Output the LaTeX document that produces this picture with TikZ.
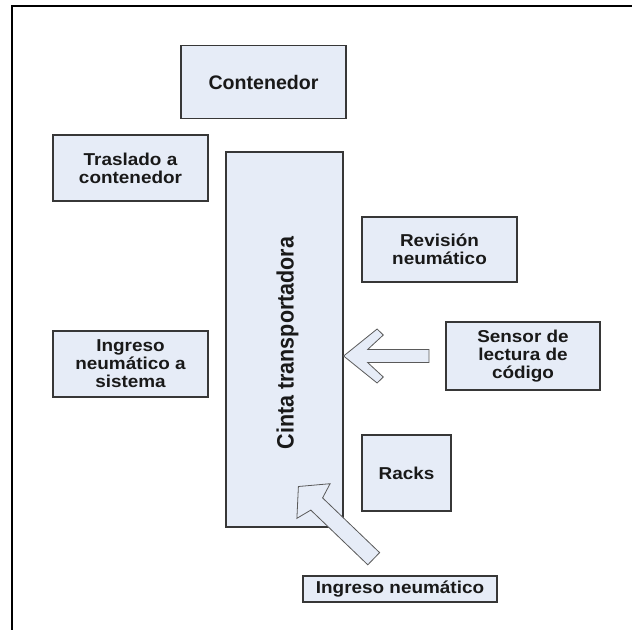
\documentclass[tikz,border=0pt]{standalone}
\usepackage{fontspec}
\setmainfont{Liberation Sans}
\newfontfamily\lblfont[FakeStretch=1.1]{Liberation Sans}
\definecolor{boxfill}{RGB}{230,236,247}
\definecolor{boxline}{RGB}{55,55,55}
\definecolor{arrowline}{RGB}{90,90,90}
\definecolor{txt}{RGB}{25,25,25}
\begin{document}
\begin{tikzpicture}[x=1pt,y=-1pt,
  box/.style={draw=boxline,fill=boxfill,line width=1.2pt,inner sep=0pt,
    align=center,text=txt,font=\lblfont\bfseries\fontsize{17.2}{18}\selectfont},
  blockarrow/.style={draw=arrowline,fill=boxfill,line width=0.8pt,line join=miter},
  frame/.style={draw=black,line width=2pt}]
\useasboundingbox (0,0) rectangle (632,630);
\fill[white] (0,0) rectangle (632,630);
% page frame: top and left rules
\draw[frame] (632,6) -- (12,6) -- (12,630);

% boxes
\node[box,minimum width=165pt,minimum height=73pt,
  font=\bfseries\fontsize{19.6}{21}\selectfont] (cont) at (263.5,82) {Contenedor};
\node[box,minimum width=155pt,minimum height=66pt] (tras) at (130.5,168) {Traslado a\\contenedor};
\node[box,minimum width=117pt,minimum height=375pt] (cinta) at (284.5,339.5) {};
\node[font=\bfseries\fontsize{21.5}{22}\selectfont,text=txt,rotate=90] (cintalbl) at (287.5,343)
  {\scalebox{1}[1.1]{Cinta transportadora}};
\node[box,minimum width=155pt,minimum height=65pt] (rev) at (439.5,249.5) {Revisión\\neumático};
\node[box,minimum width=155pt,minimum height=66pt] (ingsis) at (130.5,364) {Ingreso\\neumático a\\sistema};
\node[box,minimum width=154pt,minimum height=68pt] (sensor) at (523,356) {Sensor de\\lectura de\\código};
\node[box,minimum width=89pt,minimum height=76pt] (racks) at (406.5,473) {Racks};
\node[box,minimum width=194pt,minimum height=26pt] (ingneu) at (400,589) {Ingreso neumático};

% block arrow from the code sensor into the belt
\coordinate (ltip) at (cinta.east |- sensor.west);
\draw[blockarrow,shift={(ltip)}]
  (0,0) -- (33.5,-27) -- (39.7,-21) -- (24,-6.5) -- (85.3,-6.5)
  -- (85.3,6.5) -- (24,6.5) -- (39.7,21) -- (33.5,27) -- cycle;

% block arrow from the tyre intake onto the belt
\coordinate (dtip) at (298.4,486.5);
\draw[blockarrow,shift={(dtip)}]
  (0,0) -- (31.7,-2.8) -- (24.2,11.4) -- (81.2,66.1)
  -- (69.4,78.3) -- (12.4,23.6) -- (-1.5,31.8) -- cycle;
\end{tikzpicture}
\end{document}
